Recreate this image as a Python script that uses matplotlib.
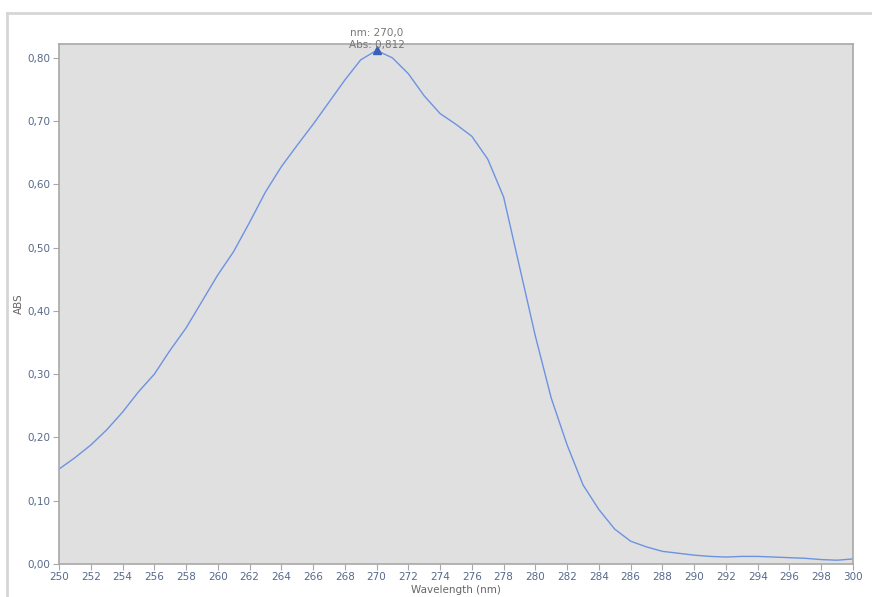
import matplotlib
matplotlib.use("Agg")
import matplotlib.pyplot as plt
from matplotlib.ticker import FuncFormatter, MultipleLocator
from matplotlib.lines import Line2D

# Absorbance spectrum, 1 nm steps
wavelength_nm = list(range(250, 301))
absorbance = [
    0.150, 0.168, 0.188, 0.212, 0.240, 0.272, 0.300, 0.338, 0.373, 0.415,
    0.457, 0.494, 0.540, 0.588, 0.628, 0.662, 0.695, 0.730, 0.765, 0.797,
    0.812, 0.800, 0.775, 0.740, 0.712, 0.695, 0.676, 0.640, 0.580, 0.470,
    0.360, 0.262, 0.188, 0.125, 0.086, 0.055, 0.036, 0.027, 0.020, 0.017,
    0.014, 0.012, 0.011, 0.012, 0.012, 0.011, 0.010, 0.009, 0.007, 0.006,
    0.008,
]
peak_nm = 270.0
peak_abs = 0.812

fig = plt.figure(figsize=(8.72, 5.97), dpi=100)
fig.patch.set_facecolor("white")

# outer panel frame (top and left edges)
fig.add_artist(Line2D([7 / 872, 1.0], [1 - 13 / 597, 1 - 13 / 597],
                      transform=fig.transFigure, color="#d6d6d6", lw=2))
fig.add_artist(Line2D([7 / 872, 7 / 872], [0.0, 1 - 13 / 597],
                      transform=fig.transFigure, color="#d6d6d6", lw=2))

ax = fig.add_axes([59 / 872, 33 / 597, (853 - 59) / 872, (564 - 44) / 597])
ax.set_facecolor("#e0e0e0")

ax.plot(wavelength_nm, absorbance, color="#6d92e2", lw=1.0)
ax.plot([peak_nm], [peak_abs], marker="^", color="#3a5fb8", markersize=6,
        linestyle="none")

ax.set_xlim(250, 300)
ax.set_ylim(0, 0.822)
ax.xaxis.set_major_locator(MultipleLocator(2))
ax.yaxis.set_major_locator(MultipleLocator(0.1))

comma = lambda v, d: f"{v:.{d}f}".replace(".", ",")
ax.xaxis.set_major_formatter(FuncFormatter(lambda v, p: f"{v:.0f}"))
ax.yaxis.set_major_formatter(FuncFormatter(lambda v, p: comma(v, 2)))

tick_color = "#56698c"
ax.tick_params(axis="both", direction="out", length=4, width=0.8,
               color="#a8a8a8", labelcolor=tick_color, labelsize=7.5, pad=2)

for s in ax.spines.values():
    s.set_color("#a8a8a8")
    s.set_linewidth(1.2)

ax.set_xlabel("Wavelength (nm)", fontsize=7.5, color="#666666", labelpad=2)
ax.set_ylabel("ABS", fontsize=7.5, color="#666666", labelpad=3)

ax.annotate(f"nm: {comma(peak_nm, 1)}\nAbs: {comma(peak_abs, 3)}",
            xy=(peak_nm, peak_abs), xytext=(0, 0), textcoords="offset points",
            ha="center", va="bottom", fontsize=7.5, color="#777777",
            linespacing=1.35, annotation_clip=False)

fig.savefig("out.png", dpi=100, facecolor="white")
